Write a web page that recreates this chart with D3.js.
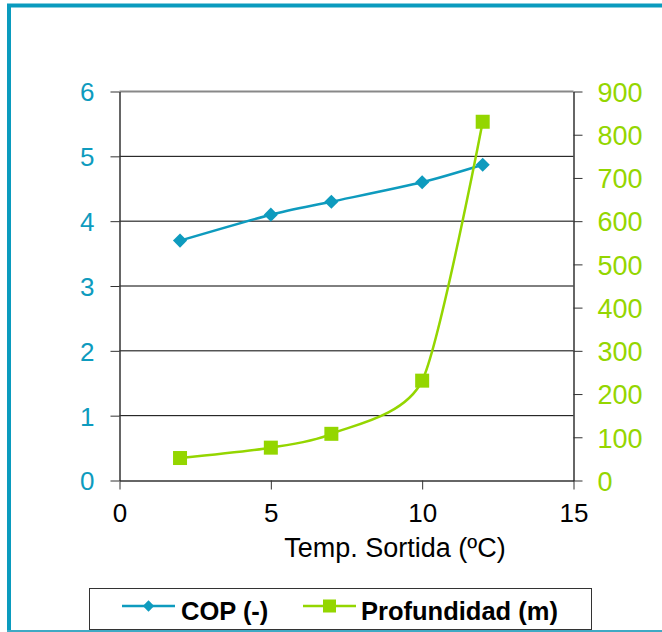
<!DOCTYPE html>
<html><head><meta charset="utf-8">
<script src="https://cdn.jsdelivr.net/npm/d3@7"></script>
<style>html,body{margin:0;padding:0;background:#fff;}svg{display:block;}</style>
</head><body>
<script>
const temps = [2, 5, 7, 10, 12];
const cop = [3.7, 4.1, 4.3, 4.6, 4.87];
const profundidad = [52, 76, 108, 231, 830];
const xTicks = [0, 5, 10, 15];
const yLeftTicks = [0, 1, 2, 3, 4, 5, 6];
const yRightTicks = [0, 100, 200, 300, 400, 500, 600, 700, 800, 900];
const xTitle = "Temp. Sortida (ºC)";
const seriesNames = ["COP (-)", "Profundidad (m)"];

const W = 662, H = 632;
const teal = "#0E9BBE", green = "#94D600";
const svg = d3.select("body").append("svg").attr("width", W).attr("height", H);

// outer frame
svg.append("line").attr("x1", 7).attr("x2", W).attr("y1", 5.5).attr("y2", 5.5).attr("stroke", "#0A9BBE").attr("stroke-width", 4);
svg.append("line").attr("x1", 9).attr("x2", 9).attr("y1", 4).attr("y2", H).attr("stroke", "#0A9BBE").attr("stroke-width", 4);
svg.append("line").attr("x1", 7).attr("x2", W).attr("y1", 631).attr("y2", 631).attr("stroke", "#3FA9C4").attr("stroke-width", 2);

const L = 119.5, R = 573.5, T = 91.5, B = 480.5;
const x = d3.scaleLinear().domain([0, 15]).range([L, R]);
const yL = d3.scaleLinear().domain([0, 6]).range([B, T]);
const yR = d3.scaleLinear().domain([0, 900]).range([B, T]);

// gridlines
svg.append("g").selectAll("line").data(yLeftTicks.filter(d => d > 0 && d < 6)).join("line")
  .attr("x1", L).attr("x2", R).attr("y1", d => yL(d)).attr("y2", d => yL(d))
  .attr("stroke", "#000").attr("stroke-width", 1);
svg.append("line").attr("x1", L).attr("x2", R).attr("y1", T).attr("y2", T).attr("stroke", "#888").attr("stroke-width", 2);

const font = "'Liberation Sans', Arial, sans-serif";
const fmt = d3.format("d");
// left axis
const gl = svg.append("g").attr("transform", `translate(${L},0)`)
  .call(d3.axisLeft(yL).tickValues(yLeftTicks).tickFormat(fmt).tickSize(9).tickSizeOuter(0).tickPadding(16));
gl.select(".domain").attr("stroke", "#333").attr("stroke-width", 1.5);
gl.selectAll(".tick line").attr("stroke", "#333");
gl.selectAll("text").attr("fill", teal).attr("font-size", 26).attr("font-family", font).attr("dy", "0.36em");

// right axis
const gr = svg.append("g").attr("transform", `translate(${R},0)`)
  .call(d3.axisRight(yR).tickValues(yRightTicks).tickFormat(fmt).tickSize(9).tickSizeOuter(0).tickPadding(15));
gr.select(".domain").attr("stroke", "#333").attr("stroke-width", 1.5);
gr.selectAll(".tick line").attr("stroke", "#333");
gr.selectAll("text").attr("fill", green).attr("font-size", 27).attr("font-family", font).attr("dy", "0.36em");

// bottom axis
const gb = svg.append("g").attr("transform", `translate(0,${B})`)
  .call(d3.axisBottom(x).tickValues(xTicks).tickFormat(fmt).tickSize(9).tickSizeOuter(0).tickPadding(14));
gb.select(".domain").attr("stroke", "#333").attr("stroke-width", 1.5);
gb.selectAll(".tick line").attr("stroke", "#333");
gb.selectAll("text").attr("fill", "#000").attr("font-size", 26).attr("font-family", font).attr("dy", "0.71em");

svg.append("text").attr("x", 395).attr("y", 557).attr("text-anchor", "middle")
  .attr("font-size", 27).attr("font-family", font).attr("fill", "#000").text(xTitle);

// series
const curve = d3.curveCardinal.tension(0.3);
const copData = temps.map((t, i) => [t, cop[i]]);
const profData = temps.map((t, i) => [t, profundidad[i]]);
svg.append("path").datum(copData)
  .attr("d", d3.line().x(d => x(d[0])).y(d => yL(d[1])).curve(curve))
  .attr("fill", "none").attr("stroke", teal).attr("stroke-width", 2.5);
svg.append("path").datum(profData)
  .attr("d", d3.line().x(d => x(d[0])).y(d => yR(d[1])).curve(curve))
  .attr("fill", "none").attr("stroke", green).attr("stroke-width", 2.5);

const diamond = d3.symbol().type(d3.symbolSquare).size(100)();
svg.append("g").selectAll("path").data(copData).join("path")
  .attr("d", diamond).attr("transform", d => `translate(${x(d[0])},${yL(d[1])}) rotate(45)`)
  .attr("fill", teal);
svg.append("g").selectAll("rect").data(profData).join("rect")
  .attr("x", d => x(d[0]) - 7).attr("y", d => yR(d[1]) - 7).attr("width", 14).attr("height", 14)
  .attr("fill", green);

// legend
const lg = svg.append("g");
lg.append("rect").attr("x", 89.5).attr("y", 588.5).attr("width", 502).attr("height", 41)
  .attr("fill", "#fff").attr("stroke", "#333").attr("stroke-width", 1);
const legItems = [
  {name: seriesNames[0], color: teal, x1: 122, x2: 175, type: "d", tx: 181},
  {name: seriesNames[1], color: green, x1: 303, x2: 356, type: "s", tx: 361}
];
const ly = 606;
legItems.forEach(it => {
  lg.append("line").attr("x1", it.x1).attr("x2", it.x2).attr("y1", ly).attr("y2", ly)
    .attr("stroke", it.color).attr("stroke-width", 2.5);
  const cx = (it.x1 + it.x2) / 2;
  if (it.type === "d") {
    lg.append("path").attr("d", d3.symbol().type(d3.symbolSquare).size(64)())
      .attr("transform", `translate(${cx},${ly}) rotate(45)`).attr("fill", it.color);
  } else {
    lg.append("rect").attr("x", cx - 6.5).attr("y", ly - 6.5).attr("width", 13).attr("height", 13).attr("fill", it.color);
  }
  lg.append("text").attr("x", it.tx).attr("y", 619.5).attr("font-size", 25.5).attr("font-weight", "bold")
    .attr("font-family", font).attr("fill", "#000").text(it.name);
});
</script>
</body></html>
